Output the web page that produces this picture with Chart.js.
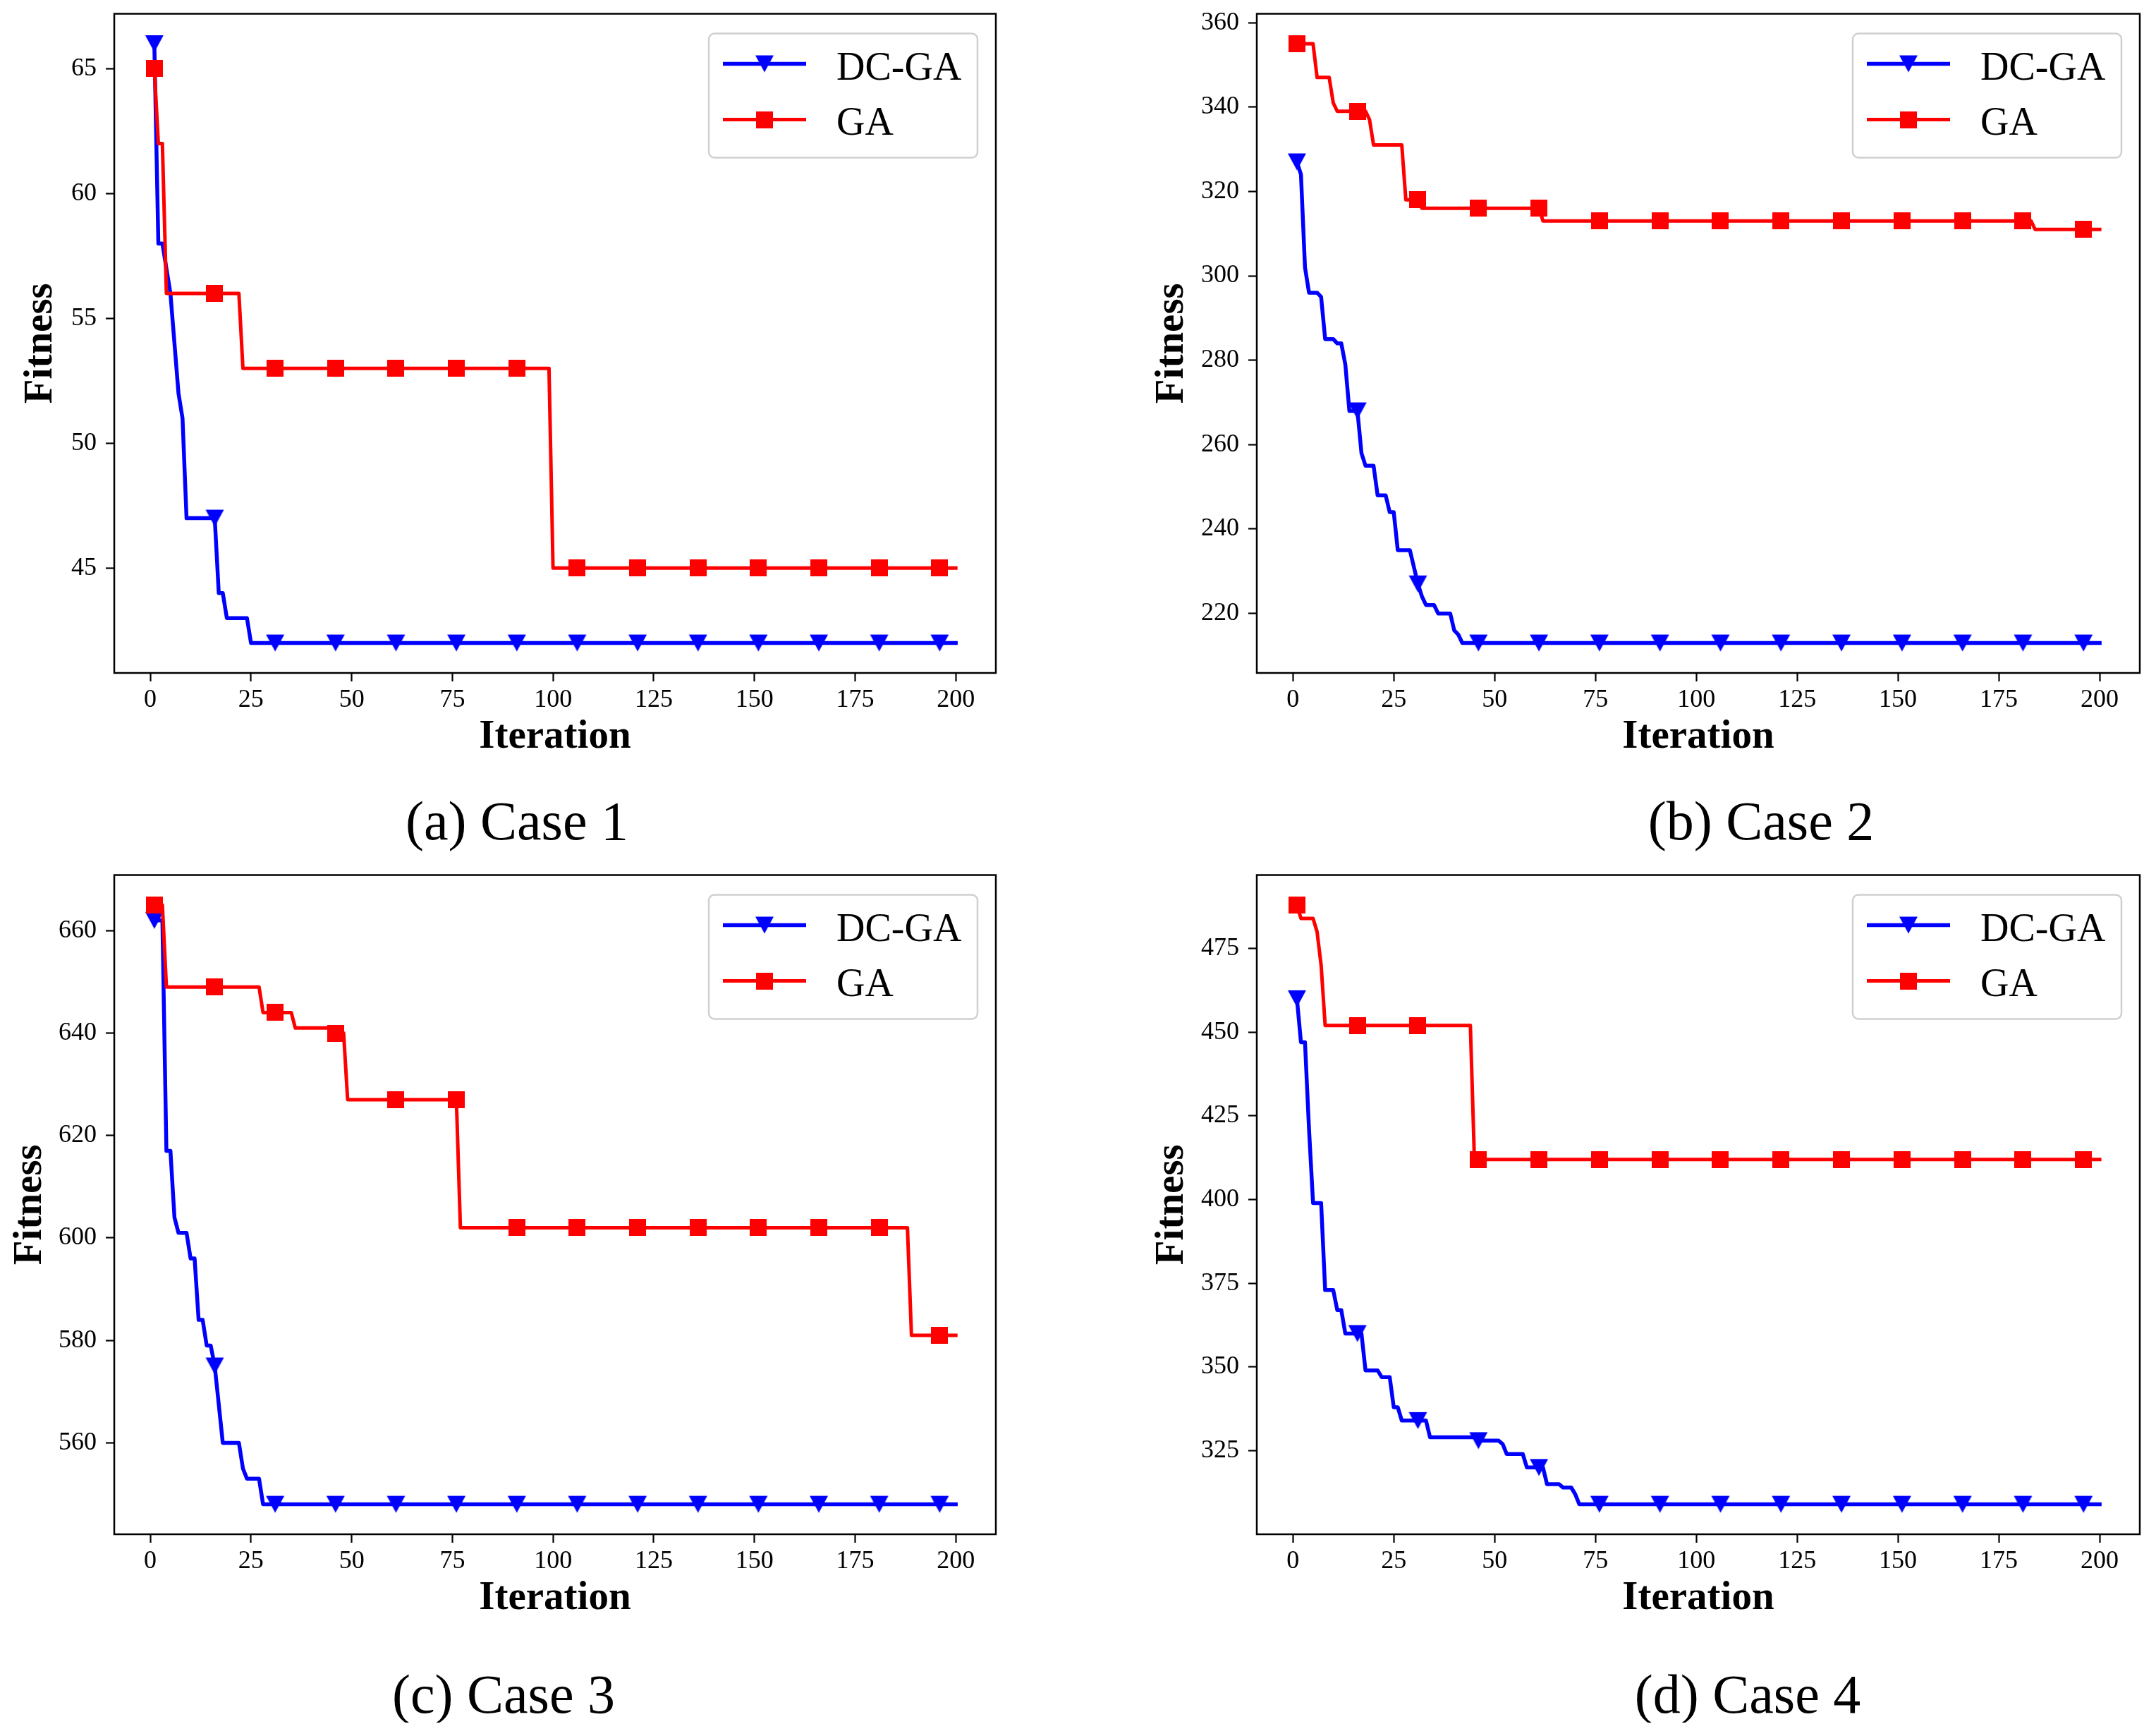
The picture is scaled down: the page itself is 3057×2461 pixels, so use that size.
<!DOCTYPE html>
<html>
<head>
<meta charset="utf-8">
<script src="https://cdn.jsdelivr.net/npm/chart.js@4.4.1/dist/chart.umd.min.js"></script>
<style>
  body { margin: 0; background: #fff; }
  #wrap { position: relative; width: 3057px; height: 2461px; background: #fff; }
  #wrap canvas { position: absolute; }
</style>
</head>
<body>
<div id="wrap">
  <canvas id="case1" width="1528" height="1221" style="left:0;top:0"></canvas>
  <canvas id="case2" width="1529" height="1221" style="left:1528px;top:0"></canvas>
  <canvas id="case3" width="1528" height="1221" style="left:0;top:1221px"></canvas>
  <canvas id="case4" width="1529" height="1221" style="left:1528px;top:1221px"></canvas>
</div>
<script>
// ---- data ----
const seriesNames = ['DC-GA', 'GA'];
const captions = ['(a) Case 1', '(b) Case 2', '(c) Case 3', '(d) Case 4'];
const xTicks = [0, 25, 50, 75, 100, 125, 150, 175, 200];
const markIter = [1, 16, 31, 46, 61, 76, 91, 106, 121, 136, 151, 166, 181, 196];

// Case 1
const c1DcIter = [1, 2, 3, 5, 7, 8, 9, 16, 17, 18, 19, 24, 25, 200];
const c1DcFit  = [66, 58, 58, 56, 52, 51, 47, 47, 44, 44, 43, 43, 42, 42];
const c1GaIter = [1, 2, 3, 4, 22, 23, 99, 100, 200];
const c1GaFit  = [65, 62, 62, 56, 56, 53, 53, 45, 45];
const c1DcMark = [66, 47, 42, 42, 42, 42, 42, 42, 42, 42, 42, 42, 42, 42];
const c1GaMark = [65, 56, 53, 53, 53, 53, 53, 45, 45, 45, 45, 45, 45, 45];
const c1YTicks = [45, 50, 55, 60, 65];

// Case 2
const c2DcIter = [1, 2, 3, 4, 6, 7, 8, 10, 11, 12, 13, 14, 16, 17, 18, 20, 21, 23, 24, 25, 26, 29, 31, 32, 33, 35, 36, 39, 40, 41, 42, 200];
const c2DcFit  = [327, 324, 302, 296, 296, 295, 285, 285, 284, 284, 279, 268, 268, 258, 255, 255, 248, 248, 244, 244, 235, 235, 227, 224, 222, 222, 220, 220, 216, 215, 213, 213];
const c2GaIter = [1, 5, 6, 9, 10, 11, 18, 19, 20, 27, 28, 31, 32, 61, 62, 183, 184, 200];
const c2GaFit  = [355, 355, 347, 347, 341, 339, 339, 337, 331, 331, 318, 318, 316, 316, 313, 313, 311, 311];
const c2DcMark = [327, 268, 227, 213, 213, 213, 213, 213, 213, 213, 213, 213, 213, 213];
const c2GaMark = [355, 339, 318, 316, 316, 313, 313, 313, 313, 313, 313, 313, 313, 311];
const c2YTicks = [220, 240, 260, 280, 300, 320, 340, 360];

// Case 3
const c3DcIter = [1, 3, 4, 5, 6, 7, 9, 10, 11, 12, 13, 14, 15, 16, 18, 22, 23, 24, 27, 28, 200];
const c3DcFit  = [662, 662, 617, 617, 604, 601, 601, 596, 596, 584, 584, 579, 579, 575, 560, 560, 555, 553, 553, 548, 548];
const c3GaIter = [1, 3, 4, 27, 28, 35, 36, 45, 46, 48, 49, 76, 77, 188, 189, 200];
const c3GaFit  = [665, 665, 649, 649, 644, 644, 641, 641, 640, 640, 627, 627, 602, 602, 581, 581];
const c3DcMark = [662, 575, 548, 548, 548, 548, 548, 548, 548, 548, 548, 548, 548, 548];
const c3GaMark = [665, 649, 644, 640, 627, 627, 602, 602, 602, 602, 602, 602, 602, 581];
const c3YTicks = [560, 580, 600, 620, 640, 660];

// Case 4
const c4DcIter = [1, 2, 3, 4, 5, 7, 8, 10, 11, 12, 13, 17, 18, 21, 22, 24, 25, 26, 27, 33, 34, 45, 46, 51, 52, 53, 57, 58, 62, 63, 66, 67, 69, 70, 71, 200];
const c4DcFit  = [460, 447, 447, 421, 399, 399, 373, 373, 367, 367, 360, 360, 349, 349, 347, 347, 338, 338, 334, 334, 329, 329, 328, 328, 327, 324, 324, 320, 320, 315, 315, 314, 314, 312, 309, 309];
const c4GaIter = [1, 2, 5, 6, 7, 8, 44, 45, 200];
const c4GaFit  = [488, 484, 484, 480, 470, 452, 452, 412, 412];
const c4DcMark = [460, 360, 334, 328, 320, 309, 309, 309, 309, 309, 309, 309, 309, 309];
const c4GaMark = [488, 452, 452, 412, 412, 412, 412, 412, 412, 412, 412, 412, 412, 412];
const c4YTicks = [325, 350, 375, 400, 425, 450, 475];

// ---- styling ----
const SERIF = "'Liberation Serif', 'Times New Roman', serif";
const BLUE = '#0000ff';
const RED = '#ff0000';
Chart.defaults.font.family = SERIF;
Chart.defaults.color = '#000';

// marker sprites (matplotlib 'v' and 's')
function triangleDown(color) {
  const c = document.createElement('canvas');
  c.width = 28; c.height = 26;
  const g = c.getContext('2d');
  g.fillStyle = color;
  g.beginPath();
  g.moveTo(1, 1); g.lineTo(27, 1); g.lineTo(14, 25); g.closePath();
  g.fill();
  return c;
}
function square(color) {
  const c = document.createElement('canvas');
  c.width = 24; c.height = 24;
  const g = c.getContext('2d');
  g.fillStyle = color;
  g.fillRect(0, 0, 24, 24);
  return c;
}
const triImg = triangleDown(BLUE);
const sqImg = square(RED);

function pts(xs, ys) {
  return xs.map((x, i) => ({ x: x, y: ys[i] }));
}

// axis box around the plot
const frame = {
  id: 'frame',
  afterDatasetsDraw(chart) {
    const a = chart.chartArea, ctx = chart.ctx;
    ctx.save();
    ctx.strokeStyle = '#000';
    ctx.lineWidth = 2.5;
    ctx.strokeRect(a.left, a.top, a.right - a.left, a.bottom - a.top);
    ctx.restore();
  }
};

// matplotlib-like legend: line with marker in the middle
const mplLegend = {
  id: 'mplLegend',
  afterDraw(chart) {
    const a = chart.chartArea, ctx = chart.ctx;
    const w = 381, h = 176, r = 8;
    const right = a.right - 26, left = right - w, top = a.top + 28;
    ctx.save();
    ctx.beginPath();
    ctx.roundRect(left, top, w, h, r);
    ctx.fillStyle = 'rgba(255,255,255,0.8)';
    ctx.fill();
    ctx.strokeStyle = '#d0d0d0';
    ctx.lineWidth = 2.5;
    ctx.stroke();
    const ds = chart.data.datasets;
    [[0, 1], [2, 3]].forEach(([li, mi], k) => {
      const line = ds[li], mk = ds[mi];
      const y = top + 43 + k * 79;
      ctx.beginPath();
      ctx.moveTo(left + 20, y);
      ctx.lineTo(left + 138, y);
      ctx.strokeStyle = line.borderColor;
      ctx.lineWidth = line.borderWidth;
      ctx.stroke();
      const img = mk.pointStyle;
      ctx.drawImage(img, left + 79 - img.width / 2, y - img.height / 2);
      ctx.fillStyle = '#000';
      ctx.font = '56px ' + SERIF;
      ctx.textBaseline = 'alphabetic';
      ctx.textAlign = 'left';
      ctx.fillText(line.label, left + 181, top + 65 + k * 78);
    });
    ctx.restore();
  }
};

const caption = {
  id: 'caption',
  afterDraw(chart, args, opts) {
    const ctx = chart.ctx;
    ctx.save();
    ctx.fillStyle = '#000';
    ctx.font = '78px ' + SERIF;
    ctx.textAlign = 'center';
    ctx.textBaseline = 'alphabetic';
    ctx.fillText(opts.text, opts.x, opts.y);
    ctx.restore();
  }
};

function makeChart(id, p) {
  const allY = p.dcFit.concat(p.gaFit);
  const yMin = Math.min(...allY), yMax = Math.max(...allY);
  const yPad = (yMax - yMin) * 0.05;
  const xMin = Math.min(...p.dcIter), xMax = Math.max(...p.dcIter);
  const xPad = (xMax - xMin) * 0.05;

  return new Chart(document.getElementById(id), {
    type: 'scatter',
    data: {
      datasets: [
        { label: seriesNames[0], data: pts(p.dcIter, p.dcFit), showLine: true,
          borderColor: BLUE, borderWidth: 5.5, borderJoinStyle: 'round', borderCapStyle: 'square',
          pointRadius: 0, order: 4 },
        { label: seriesNames[0] + ' markers', data: pts(markIter, p.dcMark), showLine: false,
          pointStyle: triImg, pointRadius: 13, order: 3 },
        { label: seriesNames[1], data: pts(p.gaIter, p.gaFit), showLine: true,
          borderColor: RED, borderWidth: 5, borderJoinStyle: 'round', borderCapStyle: 'square',
          pointRadius: 0, order: 2 },
        { label: seriesNames[1] + ' markers', data: pts(markIter, p.gaMark), showLine: false,
          pointStyle: sqImg, pointRadius: 12, order: 1 }
      ]
    },
    options: {
      responsive: false,
      animation: false,
      devicePixelRatio: 1,
      events: [],
      layout: { padding: { top: 19.5, right: p.padRight, bottom: 141, left: 0 } },
      plugins: {
        legend: { display: false },
        tooltip: { enabled: false },
        caption: { text: p.caption, x: p.capX, y: p.capY }
      },
      scales: {
        x: {
          type: 'linear',
          min: xMin - xPad,
          max: xMax + xPad,
          afterBuildTicks: s => { s.ticks = xTicks.map(v => ({ value: v })); },
          afterFit: s => { s.height = 126; s.paddingLeft = 0; s.paddingRight = 0; },
          grid: { drawOnChartArea: false, drawTicks: true, tickLength: 12, tickWidth: 2.2, tickColor: '#000' },
          border: { display: false },
          ticks: { font: { size: 36, lineHeight: 1.2 }, padding: 5, maxRotation: 0, color: '#000' },
          title: { display: true, text: 'Iteration', font: { size: 57, weight: 'bold', lineHeight: 1 },
                   padding: { top: 0, bottom: 6 }, color: '#000' }
        },
        y: {
          type: 'linear',
          min: yMin - yPad,
          max: yMax + yPad,
          afterBuildTicks: s => { s.ticks = p.yTicks.map(v => ({ value: v })); },
          afterFit: s => { s.width = p.yAxisW; s.paddingTop = 0; s.paddingBottom = 0; },
          grid: { drawOnChartArea: false, drawTicks: true, tickLength: 12, tickWidth: 2.2, tickColor: '#000' },
          border: { display: false },
          ticks: { font: { size: 36, lineHeight: 1.2 }, padding: 13, color: '#000' },
          title: { display: true, text: 'Fitness', font: { size: 57, weight: 'bold', lineHeight: 1 },
                   padding: { top: p.titlePad, bottom: 0 }, color: '#000' }
        }
      }
    },
    plugins: [frame, mplLegend, caption]
  });
}

makeChart('case1', { dcIter: c1DcIter, dcFit: c1DcFit, gaIter: c1GaIter, gaFit: c1GaFit,
  dcMark: c1DcMark, gaMark: c1GaMark, yTicks: c1YTicks, caption: captions[0],
  yAxisW: 162, padRight: 116, titlePad: 30, capX: 733, capY: 1190 });
makeChart('case2', { dcIter: c2DcIter, dcFit: c2DcFit, gaIter: c2GaIter, gaFit: c2GaFit,
  dcMark: c2DcMark, gaMark: c2GaMark, yTicks: c2YTicks, caption: captions[1],
  yAxisW: 254, padRight: 23, titlePad: 105.5, capX: 969, capY: 1190 });
makeChart('case3', { dcIter: c3DcIter, dcFit: c3DcFit, gaIter: c3GaIter, gaFit: c3GaFit,
  dcMark: c3DcMark, gaMark: c3GaMark, yTicks: c3YTicks, caption: captions[2],
  yAxisW: 162, padRight: 116, titlePad: 14.5, capX: 714, capY: 1207 });
makeChart('case4', { dcIter: c4DcIter, dcFit: c4DcFit, gaIter: c4GaIter, gaFit: c4GaFit,
  dcMark: c4DcMark, gaMark: c4GaMark, yTicks: c4YTicks, caption: captions[3],
  yAxisW: 254, padRight: 23, titlePad: 105.5, capX: 950, capY: 1207 });
</script>
</body>
</html>
